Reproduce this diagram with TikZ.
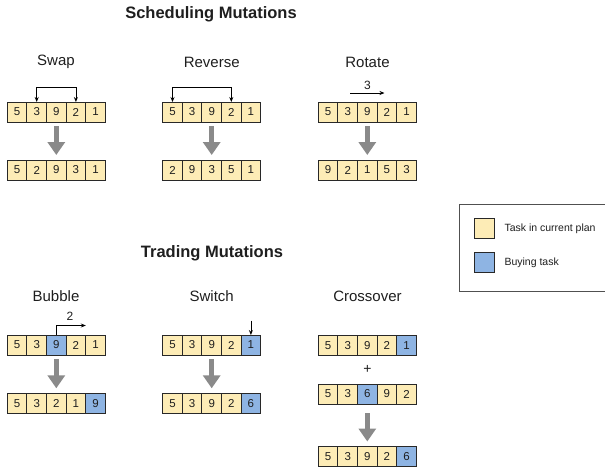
\documentclass[tikz,border=0pt]{standalone}
\usepackage{fontspec}
\setmainfont{Liberation Sans}
\usetikzlibrary{arrows.meta}

\definecolor{taskyellow}{RGB}{253,236,182}
\definecolor{buyblue}{RGB}{142,180,227}
\definecolor{cellline}{RGB}{40,40,40}
\definecolor{bigarrow}{RGB}{138,138,138}
\definecolor{inktext}{RGB}{30,30,30}
\definecolor{legendline}{RGB}{80,80,80}

% one row of five task cells: name prefix, left x, top y, list of value/style
\newcommand\taskrow[4]{%
  \foreach [count=\i] \v/\s in {#4} {%
    \node[cell,\s] (#1-\i) at ({#2+(\i-0.5)*19.6},{#3+10}) {\v};
  }%
}

\begin{document}
\begin{tikzpicture}[x=1pt,y=-1pt,
  cell/.style={draw=cellline, line width=0.9pt, minimum width=19.6pt,
    minimum height=20pt, inner sep=0pt, outer sep=0pt, text=inktext,
    font=\fontsize{11.5}{12}\selectfont},
  ty/.style={fill=taskyellow},
  tb/.style={fill=buyblue},
  title/.style={font=\fontsize{16.5}{18}\selectfont\bfseries, text=inktext},
  oplabel/.style={font=\fontsize{15}{17}\selectfont, text=inktext},
  numlabel/.style={font=\fontsize{12}{13}\selectfont, text=inktext, inner sep=0pt},
  legtext/.style={font=\fontsize{10.5}{12}\selectfont, text=inktext, anchor=west, inner sep=0pt},
  graydown/.style={draw=bigarrow, line width=5pt,
    -{Triangle[width=17pt,length=13pt]}, shorten <=4pt, shorten >=5pt},
  thinarrow/.style={draw=black, line width=0.8pt, -{Stealth[length=5pt,width=4pt]}},
  bracket/.style={draw=black, line width=0.8pt,
    {Stealth[length=5pt,width=4pt]}-{Stealth[length=5pt,width=4pt]}},
]
\useasboundingbox (0,0) rectangle (605,467);

% ---------------- scheduling mutations ----------------
\node[title] (schedtitle) at (211,14) {Scheduling Mutations};

\node[oplabel] (swaplbl) at (56,62) {Swap};
\node[oplabel] (revlbl) at (211.7,62) {Reverse};
\node[oplabel] (rotlbl) at (367.5,62) {Rotate};

\taskrow{sw1}{7.3}{102}{5/ty,3/ty,9/ty,2/ty,1/ty}
\taskrow{sw2}{7.3}{160}{5/ty,2/ty,9/ty,3/ty,1/ty}
\taskrow{rv1}{162.7}{102}{5/ty,3/ty,9/ty,2/ty,1/ty}
\taskrow{rv2}{162.7}{160}{2/ty,9/ty,3/ty,5/ty,1/ty}
\taskrow{rt1}{318.3}{102}{5/ty,3/ty,9/ty,2/ty,1/ty}
\taskrow{rt2}{318.3}{160}{9/ty,2/ty,1/ty,5/ty,3/ty}

\draw[bracket] (sw1-2.north) -- ++(0,-15) -| (sw1-4.north);
\draw[bracket] (rv1-1.north) -- ++(0,-15) -| (rv1-4.north);

\coordinate (rotfrom) at (350,93);
\coordinate (rotto) at (384.5,93);
\draw[thinarrow] (rotfrom) -- (rotto);
\node[numlabel] (rotnum) at (367.5,85) {3};

\draw[graydown] (sw1-3) -- (sw2-3);
\draw[graydown] (rv1-3) -- (rv2-3);
\draw[graydown] (rt1-3) -- (rt2-3);

% ---------------- trading mutations ----------------
\node[title] (tradetitle) at (212,253) {Trading Mutations};

\node[oplabel] (bublbl) at (56,296) {Bubble};
\node[oplabel] (swilbl) at (211.7,296) {Switch};
\node[oplabel] (crolbl) at (367.5,296) {Crossover};

\taskrow{bb1}{7.3}{335}{5/ty,3/ty,9/tb,2/ty,1/ty}
\taskrow{bb2}{7.3}{393.3}{5/ty,3/ty,2/ty,1/ty,9/tb}
\taskrow{sc1}{162.7}{335}{5/ty,3/ty,9/ty,2/ty,1/tb}
\taskrow{sc2}{162.7}{393.3}{5/ty,3/ty,9/ty,2/ty,6/tb}
\taskrow{cx1}{318.3}{335.3}{5/ty,3/ty,9/ty,2/ty,1/tb}
\taskrow{cx2}{318.3}{384}{5/ty,3/ty,6/tb,9/ty,2/ty}
\taskrow{cx3}{318.3}{446.5}{5/ty,3/ty,9/ty,2/ty,6/tb}

\draw[thinarrow] (bb1-3.north) -- ++(0,-9.5) -- ++(29.5,0);
\node[numlabel] (bubnum) at (70,316.5) {2};

\coordinate (swtop) at ([yshift=14.5pt]sc1-5.north);
\draw[thinarrow] (swtop) -- (sc1-5.north);

\node[font=\fontsize{14}{15}\selectfont, text=inktext, inner sep=0pt] (cxplus) at (367.5,369.5) {+};

\draw[graydown] (bb1-3) -- (bb2-3);
\draw[graydown] (sc1-3) -- (sc2-3);
\draw[graydown, shorten <=9pt, shorten >=5pt] (cx2-3) -- (cx3-3);

% ---------------- legend ----------------
\draw[legendline, line width=0.9pt] (608,204.5) -- (459.5,204.5) -- (459.5,291.5) -- (608,291.5);
\node[cell,ty, minimum width=20pt] (legyellow) at (484.3,228.3) {};
\node[cell,tb, minimum width=20pt] (legblue) at (484.3,262.3) {};
\node[legtext] (legtask) at (504.3,228.3) {Task in current plan};
\node[legtext] (legbuy) at (504.3,262.3) {Buying task};
\end{tikzpicture}
\end{document}
